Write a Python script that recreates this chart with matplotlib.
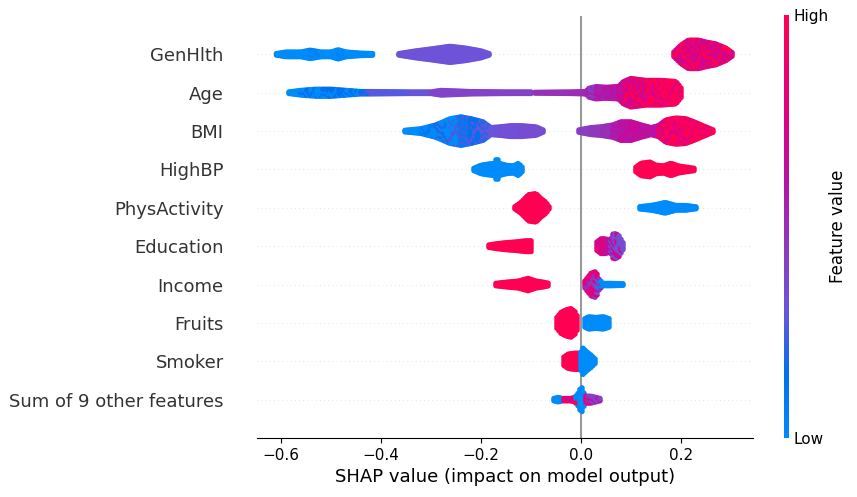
import numpy as np
import matplotlib
matplotlib.use("Agg")
import matplotlib.pyplot as plt
from matplotlib.colors import LinearSegmentedColormap
from matplotlib.cm import ScalarMappable

# features from bottom (row 0) to top (row 9)
features = ["Sum of 9 other features", "Smoker", "Fruits", "Income", "Education",
            "PhysActivity", "HighBP", "BMI", "Age", "GenHlth"]

# swarm outlines:
# each blob is a list of (shap value, half thickness in rows, feature value, mixed-in feature value)
genhlth = [
    [(-0.609, 0.09, 0.0, 0.0), (-0.59, 0.13, 0.0, 0.0), (-0.56, 0.13, 0.0, 0.0), (-0.542, 0.18, 0.0, 0.05),
     (-0.52, 0.13, 0.0, 0.0), (-0.50, 0.13, 0.0, 0.0), (-0.486, 0.19, 0.0, 0.05), (-0.47, 0.13, 0.0, 0.0),
     (-0.44, 0.10, 0.0, 0.0), (-0.414, 0.09, 0.0, 0.0)],
    [(-0.364, 0.09, 0.32, 0.32), (-0.33, 0.16, 0.32, 0.32), (-0.30, 0.21, 0.32, 0.32), (-0.262, 0.28, 0.32, 0.32),
     (-0.23, 0.23, 0.32, 0.32), (-0.20, 0.16, 0.32, 0.32), (-0.184, 0.09, 0.32, 0.32)],
    [(0.186, 0.13, 0.7, 1.0), (0.20, 0.31, 0.7, 1.0), (0.215, 0.44, 0.7, 1.0), (0.235, 0.44, 0.7, 1.0),
     (0.25, 0.39, 0.7, 1.0), (0.27, 0.34, 0.7, 1.0), (0.29, 0.23, 0.7, 1.0), (0.304, 0.10, 0.7, 1.0)],
]
age = [
    [(-0.584, 0.09, 0.0, 0.0), (-0.56, 0.13, 0.0, 0.15), (-0.53, 0.16, 0.0, 0.15), (-0.50, 0.16, 0.15, 0.0),
     (-0.47, 0.13, 0.0, 0.15), (-0.44, 0.10, 0.15, 0.25), (-0.42, 0.10, 0.27, 0.27), (-0.34, 0.09, 0.3, 0.3),
     (-0.30, 0.09, 0.38, 0.38), (-0.28, 0.13, 0.38, 0.4), (-0.22, 0.10, 0.4, 0.4), (-0.15, 0.09, 0.4, 0.4),
     (-0.098, 0.09, 0.4, 0.4)],
    [(-0.092, 0.08, 0.48, 0.48), (-0.02, 0.09, 0.5, 0.5), (0.01, 0.10, 0.52, 0.4), (0.015, 0.18, 0.55, 0.4),
     (0.03, 0.23, 0.55, 0.6), (0.05, 0.21, 0.58, 0.62), (0.075, 0.23, 0.62, 0.7), (0.085, 0.36, 0.7, 1.0),
     (0.10, 0.44, 0.7, 1.0), (0.13, 0.39, 1.0, 0.75), (0.16, 0.39, 1.0, 0.8), (0.19, 0.36, 1.0, 0.85),
     (0.202, 0.16, 1.0, 1.0)],
]
bmi = [
    [(-0.352, 0.09, 0.0, 0.0), (-0.32, 0.13, 0.0, 0.1), (-0.29, 0.23, 0.0, 0.2), (-0.262, 0.39, 0.0, 0.25),
     (-0.24, 0.44, 0.1, 0.25), (-0.22, 0.39, 0.15, 0.28), (-0.196, 0.31, 0.2, 0.3), (-0.18, 0.16, 0.3, 0.3),
     (-0.162, 0.18, 0.33, 0.33), (-0.14, 0.21, 0.33, 0.33), (-0.12, 0.21, 0.35, 0.35), (-0.09, 0.18, 0.35, 0.35),
     (-0.076, 0.10, 0.35, 0.35)],
    [(-0.004, 0.10, 0.42, 0.42), (0.02, 0.16, 0.45, 0.45), (0.04, 0.18, 0.48, 0.5), (0.064, 0.23, 0.55, 0.6),
     (0.08, 0.31, 0.6, 0.68), (0.10, 0.31, 0.62, 0.7), (0.12, 0.23, 0.62, 0.66), (0.14, 0.16, 0.62, 0.62),
     (0.155, 0.21, 0.7, 1.0), (0.17, 0.36, 1.0, 0.75), (0.19, 0.41, 1.0, 0.75), (0.21, 0.39, 1.0, 0.8),
     (0.226, 0.31, 1.0, 0.85), (0.264, 0.10, 1.0, 1.0)],
]
highbp = [
    [(-0.214, 0.10, 0.0, 0.0), (-0.20, 0.18, 0.0, 0.0), (-0.185, 0.21, 0.0, 0.0), (-0.172, 0.23, 0.0, 0.0),
     (-0.168, 0.41, 0.0, 0.0), (-0.164, 0.23, 0.0, 0.0), (-0.15, 0.18, 0.0, 0.0), (-0.135, 0.16, 0.0, 0.0),
     (-0.125, 0.23, 0.0, 0.0), (-0.118, 0.13, 0.0, 0.0)],
    [(0.110, 0.13, 1.0, 1.0), (0.12, 0.23, 1.0, 1.0), (0.138, 0.26, 1.0, 1.0), (0.15, 0.18, 1.0, 1.0),
     (0.165, 0.16, 1.0, 1.0), (0.18, 0.23, 1.0, 1.0), (0.195, 0.16, 1.0, 1.0), (0.21, 0.13, 1.0, 1.0),
     (0.226, 0.10, 1.0, 1.0)],
]
physactivity = [
    [(-0.132, 0.10, 1.0, 1.0), (-0.12, 0.21, 1.0, 1.0), (-0.105, 0.41, 1.0, 1.0), (-0.09, 0.44, 1.0, 1.0),
     (-0.08, 0.31, 1.0, 1.0), (-0.07, 0.21, 1.0, 1.0), (-0.064, 0.10, 1.0, 1.0)],
    [(0.118, 0.10, 0.0, 0.0), (0.14, 0.13, 0.0, 0.0), (0.16, 0.18, 0.0, 0.0), (0.168, 0.21, 0.0, 0.0),
     (0.19, 0.13, 0.0, 0.0), (0.21, 0.13, 0.0, 0.0), (0.232, 0.09, 0.0, 0.0)],
]
education = [
    [(-0.184, 0.10, 1.0, 1.0), (-0.17, 0.13, 1.0, 1.0), (-0.15, 0.16, 1.0, 1.0), (-0.13, 0.18, 1.0, 1.0),
     (-0.11, 0.21, 1.0, 1.0), (-0.100, 0.21, 1.0, 1.0)],
    [(0.032, 0.18, 0.7, 0.85), (0.04, 0.26, 0.7, 0.85), (0.05, 0.26, 0.7, 0.6), (0.058, 0.21, 0.6, 0.35),
     (0.065, 0.41, 0.35, 0.7), (0.075, 0.36, 0.35, 0.7), (0.084, 0.16, 0.35, 0.35)],
]
income = [
    [(-0.170, 0.10, 1.0, 1.0), (-0.15, 0.13, 1.0, 1.0), (-0.125, 0.16, 1.0, 1.0), (-0.106, 0.23, 1.0, 1.0),
     (-0.09, 0.16, 1.0, 1.0), (-0.075, 0.13, 1.0, 1.0), (-0.064, 0.10, 1.0, 1.0)],
    [(0.008, 0.16, 0.8, 0.5), (0.02, 0.36, 0.8, 0.45), (0.03, 0.41, 0.75, 0.3), (0.036, 0.21, 0.5, 0.0),
     (0.044, 0.10, 0.0, 0.0), (0.06, 0.10, 0.0, 0.0), (0.084, 0.09, 0.0, 0.0)],
]
fruits = [
    [(-0.048, 0.21, 1.0, 1.0), (-0.04, 0.34, 1.0, 1.0), (-0.03, 0.41, 1.0, 1.0), (-0.02, 0.44, 1.0, 1.0),
     (-0.012, 0.36, 1.0, 1.0), (-0.008, 0.26, 1.0, 1.0)],
    [(0.008, 0.18, 0.0, 0.0), (0.015, 0.23, 0.0, 0.0), (0.03, 0.21, 0.0, 0.0), (0.045, 0.23, 0.0, 0.0),
     (0.056, 0.18, 0.0, 0.0)],
]
smoker = [
    [(-0.034, 0.18, 1.0, 1.0), (-0.025, 0.26, 1.0, 1.0), (-0.012, 0.28, 1.0, 1.0), (-0.004, 0.28, 1.0, 1.0),
     (-0.002, 0.21, 1.0, 1.0)],
    [(0.0, 0.31, 0.0, 0.0), (0.004, 0.41, 0.0, 0.0), (0.012, 0.31, 0.0, 0.0), (0.02, 0.23, 0.0, 0.0),
     (0.028, 0.13, 0.0, 0.0)],
]
sum_other = [
    [(-0.054, 0.10, 0.0, 0.0), (-0.045, 0.13, 0.0, 0.0), (-0.038, 0.10, 1.0, 0.7), (-0.02, 0.10, 1.0, 0.7),
     (-0.012, 0.13, 0.0, 1.0), (-0.004, 0.26, 0.0, 0.0), (0.0, 0.41, 0.0, 0.0), (0.003, 0.36, 0.0, 0.0),
     (0.008, 0.16, 0.8, 0.45), (0.02, 0.16, 0.6, 0.4), (0.038, 0.10, 0.5, 0.5)],
]
swarms = [sum_other, smoker, fruits, income, education, physactivity, highbp, bmi, age, genhlth]

cmap = LinearSegmentedColormap.from_list(
    "red_blue", [(0.0, "#008bfb"), (0.15, "#0070ee"), (0.3, "#6a55dc"), (0.45, "#9038bc"),
                 (0.6, "#b414a8"), (0.75, "#dc0088"), (1.0, "#ff0052")])

DX = 0.004   # spacing of dots along x (shap units)
DY = 0.075   # spacing of dots across a row (row units)
R = 0.072    # dot radius in row units


def draw_swarm(ax, row, blobs):
    xs, ys, cs = [], [], []
    for blob in blobs:
        k = np.array(blob)
        cols = np.arange(k[0, 0], k[-1, 0] + 1e-9, DX)
        for i, x in enumerate(cols):
            h = np.interp(x, k[:, 0], k[:, 1]) - R
            if h < 0:
                continue
            idx = min(max(np.searchsorted(k[:, 0], x, side="right") - 1, 0), len(k) - 1)
            v1, v2 = k[idx, 2], k[idx, 3]
            n = int(np.ceil(2 * h / DY)) + 1
            for j, y in enumerate(np.linspace(-h, h, n)):
                xs.append(x)
                ys.append(row + y)
                # scatter the two colours in an irregular mix
                cs.append(v2 if (i * i * 7 + j * j * 13 + i * j * 5 + i) % 11 < 5 else v1)
    ax.scatter(xs, ys, c=cs, cmap=cmap, vmin=0, vmax=1, s=16, linewidth=0,
               rasterized=True, zorder=3)


fig = plt.figure(figsize=(8.57, 4.97), dpi=100)
ax = fig.add_axes([0.2999, 0.1187, 0.5787, 0.8491])

for row in range(len(features)):
    ax.axhline(row, color="#cccccc", lw=0.5, dashes=(1, 5), zorder=-1)
ax.axvline(0, color="#999999", lw=1.5, zorder=-1)

for row, blobs in enumerate(swarms):
    draw_swarm(ax, row, blobs)

ax.set_xlim(-0.648, 0.344)
ax.set_ylim(-1, len(features))
ax.set_yticks(range(len(features)))
ax.set_yticklabels(features, fontsize=13, color="#333333")
ax.tick_params(axis="y", length=0, pad=24)
ax.tick_params(axis="x", labelsize=11)
ax.set_xticks([-0.6, -0.4, -0.2, 0.0, 0.2])
ax.set_xlabel("SHAP value (impact on model output)", fontsize=13)
for side in ["top", "right", "left"]:
    ax.spines[side].set_visible(False)

cax = fig.add_axes([0.9148, 0.1187, 0.0058, 0.851])
m = ScalarMappable(cmap=cmap)
m.set_array([0, 1])
cb = fig.colorbar(m, cax=cax, ticks=[0, 1])
cb.set_ticklabels(["Low", "High"])
cb.ax.tick_params(labelsize=11, length=0)
cb.outline.set_visible(False)
fig.text(838 / 857, 1 - 226 / 497, "Feature value", rotation=90, fontsize=12,
         ha="center", va="center")

fig.savefig("out.png", dpi=100)
